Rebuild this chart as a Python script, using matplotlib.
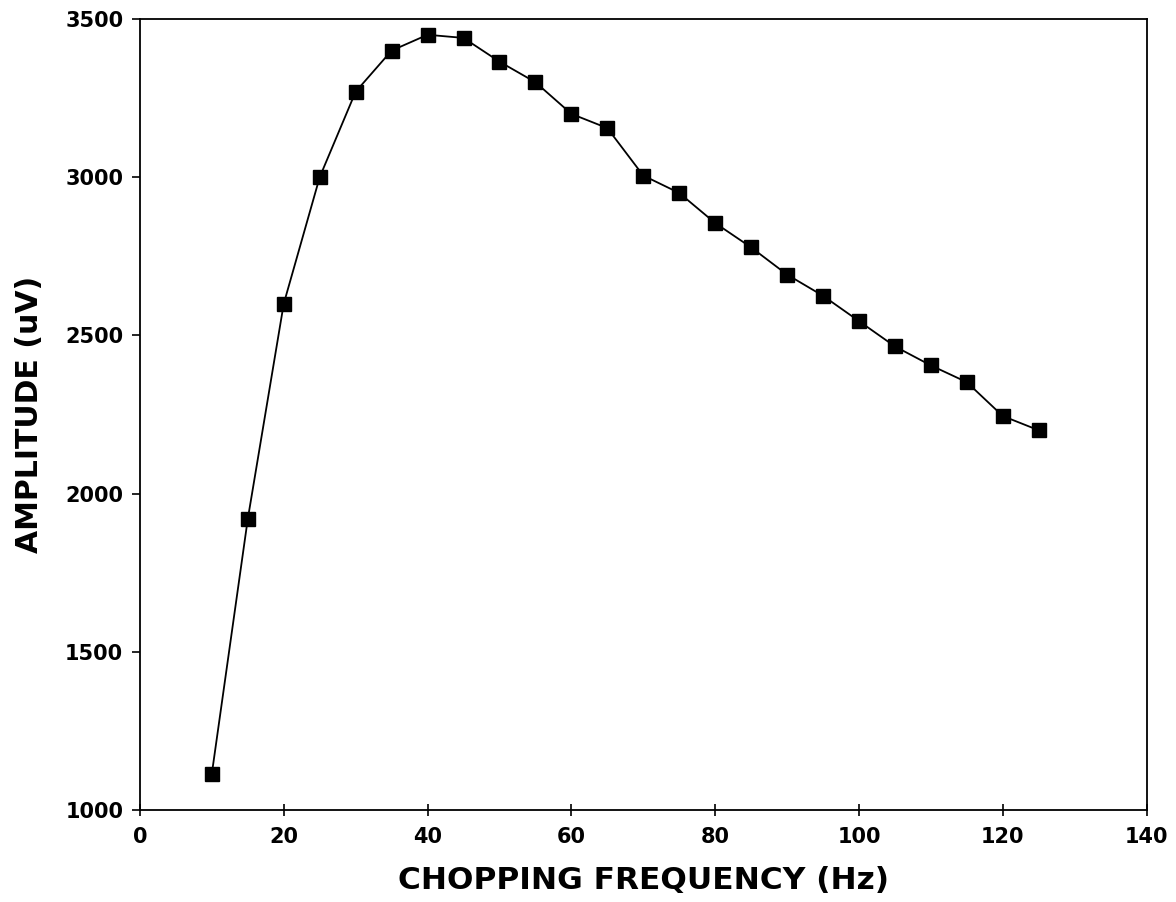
import matplotlib
matplotlib.use("Agg")
import matplotlib.pyplot as plt

plt.rcParams['font.family'] = ['DejaVu Sans']

freq = [10, 15, 20, 25, 30, 35, 40, 45, 50, 55, 60, 65, 70, 75, 80, 85,
        90, 95, 100, 105, 110, 115, 120, 125]
amplitude = [1115, 1920, 2600, 3000, 3270, 3400, 3450, 3440, 3365, 3300,
             3200, 3155, 3005, 2950, 2855, 2778, 2692, 2625, 2545, 2465,
             2405, 2352, 2245, 2200]

xticks = [0, 20, 40, 60, 80, 100, 120, 140]
yticks = [1000, 1500, 2000, 2500, 3000, 3500]

fig = plt.figure(figsize=(11.76, 9.02), dpi=100)
ax = fig.add_axes([0.119, 0.102, 0.856, 0.877])

ax.plot(freq, amplitude, color='black', lw=1.3, marker='s', ms=10,
        markerfacecolor='black', markeredgecolor='black')

ax.set_xlim(0, 140)
ax.set_ylim(1000, 3500)
ax.set_xticks(xticks)
ax.set_yticks(yticks)
ax.tick_params(axis='y', labelsize=15, width=1.2, length=6, direction='out', pad=6)
ax.tick_params(axis='x', labelsize=15, width=1.2, length=8, direction='inout', pad=8)
for lbl in ax.get_xticklabels() + ax.get_yticklabels():
    lbl.set_fontweight('bold')
for s in ax.spines.values():
    s.set_linewidth(1.3)

ax.set_xlabel('CHOPPING FREQUENCY (Hz)', fontsize=22.5, fontweight='bold', labelpad=14)
ax.set_ylabel('AMPLITUDE (uV)', fontsize=21.5, fontweight='bold', labelpad=15)

fig.savefig('out.png', dpi=100)
